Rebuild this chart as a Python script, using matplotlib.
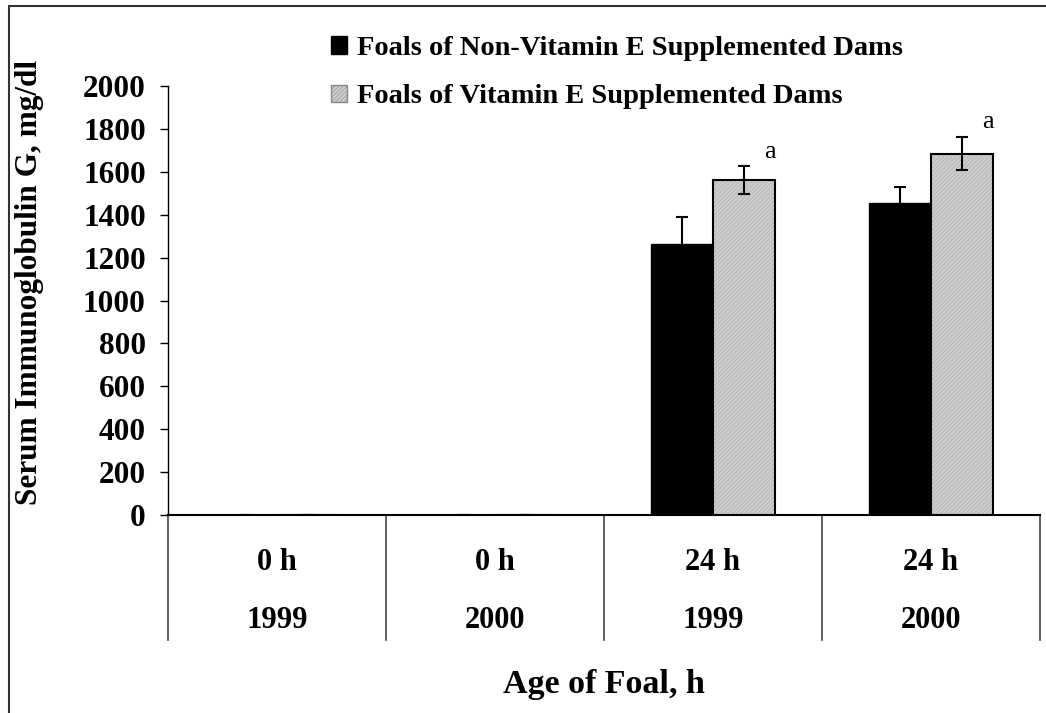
import numpy as np
import matplotlib.pyplot as plt
from matplotlib.patches import Rectangle, Patch

# --- Data ---
ages = ['0 h', '0 h', '24 h', '24 h']
years = ['1999', '2000', '1999', '2000']
non_vit_e = [0, 0, 1265, 1455]
non_vit_e_err = [0, 0, 125, 75]
vit_e = [0, 0, 1560, 1685]
vit_e_err = [0, 0, 65, 78]
sig_marks = ['', '', 'a', 'a']

plt.rcParams['font.family'] = ['Liberation Serif', 'DejaVu Serif']
plt.rcParams['font.weight'] = 'bold'
plt.rcParams['hatch.linewidth'] = 0.4

W, H = 1046, 713
fig = plt.figure(figsize=(W / 100, H / 100), dpi=100)
ax = fig.add_axes([168 / W, 1 - 515 / H, (1040 - 168) / W, (515 - 86) / H])

x = np.arange(len(ages))
bw = 0.285
grey = '#cdcdcd'

# black bars
ax.bar(x - bw / 2, non_vit_e, bw, color='black', edgecolor='black', linewidth=1)
# grey hatched bars: fill + fine hatch, then outline
ax.bar(x + bw / 2, vit_e, bw, color=grey, edgecolor='#a8a8a8',
       hatch='////////', linewidth=0)
ax.bar(x + bw / 2, vit_e, bw, fill=False, edgecolor='black', linewidth=1.5)

ax.errorbar(x - bw / 2, non_vit_e, yerr=non_vit_e_err, fmt='none',
            ecolor='black', elinewidth=1.5, capsize=4, capthick=1.5)
ax.errorbar(x + bw / 2, vit_e, yerr=vit_e_err, fmt='none',
            ecolor='black', elinewidth=1.5, capsize=4, capthick=1.5)

for xi, v, e, m in zip(x, vit_e, vit_e_err, sig_marks):
    if m:
        ax.text(xi + bw * 0.92, v + e + 40, m, ha='center', va='baseline',
                fontsize=19, fontweight='normal')

ax.set_xlim(-0.5, len(ages) - 0.5)
ax.set_ylim(0, 2000)
ax.set_yticks(np.arange(0, 2001, 200))
ax.tick_params(axis='y', labelsize=22.5, length=6, width=1, pad=10, direction='out')
ax.set_xticks([])
for s in ['top', 'right']:
    ax.spines[s].set_visible(False)
ax.spines['left'].set_linewidth(1)
ax.spines['bottom'].set_linewidth(1.5)

# category table below the axis
tr = ax.get_xaxis_transform()
y_end = -(640 - 515) / (515 - 86)
for b in np.arange(-0.5, len(ages), 1.0):
    ax.plot([b, b], [0, y_end], color='#444444', lw=1.2, transform=tr, clip_on=False)
for xi, a, yr in zip(x, ages, years):
    ax.text(xi, -(562 - 515) / (515 - 86), a, transform=tr, ha='center',
            va='center', fontsize=22, fontweight='bold')
    ax.text(xi, -(620 - 515) / (515 - 86), yr, transform=tr, ha='center',
            va='center', fontsize=22, fontweight='bold')

fig.text(604 / W, 1 - 684 / H, 'Age of Foal, h', ha='center', va='center',
         fontsize=24.5, fontweight='bold')
fig.text(30 / W, 1 - 282 / H, 'Serum Immunoglobulin G, mg/dl', ha='center',
         va='center', rotation=90, fontsize=22.5, fontweight='bold')

handles = [Patch(facecolor='black', edgecolor='black'),
           Patch(facecolor=grey, edgecolor='#888888', hatch='////////')]
leg = ax.legend(handles, ['Foals of Non-Vitamin E Supplemented Dams',
                          'Foals of Vitamin E Supplemented Dams'],
                loc='upper left', bbox_to_anchor=(331 / W, 1 - 36 / H),
                bbox_transform=fig.transFigure, frameon=False,
                prop={'size': 20.5, 'weight': 'bold'},
                handlelength=0.55, handleheight=0.55, handletextpad=0.35,
                labelspacing=0.82, borderaxespad=0, borderpad=0)

# outer frame
fig.add_artist(Rectangle((9 / W, -0.1), 1.2, 1.1 - 6 / H,
                         transform=fig.transFigure, fill=False,
                         edgecolor='#333333', lw=1.5))

fig.savefig('out.png', dpi=100)
